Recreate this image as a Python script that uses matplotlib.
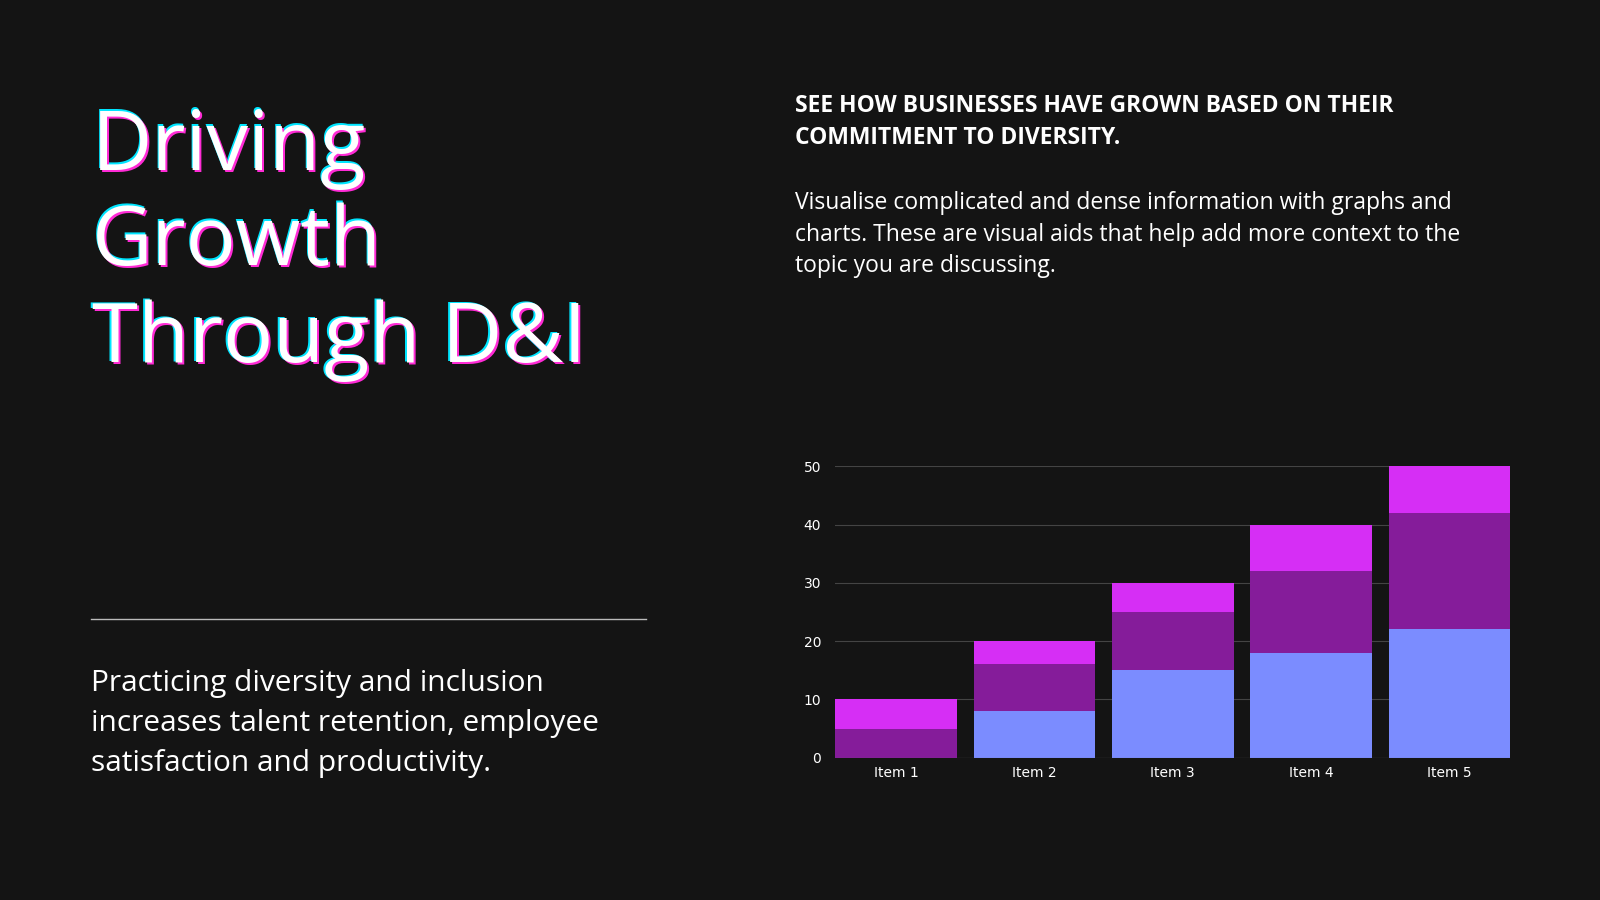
import matplotlib
matplotlib.use("Agg")
import matplotlib.pyplot as plt
import numpy as np

categories = ["Item 1", "Item 2", "Item 3", "Item 4", "Item 5"]
series_a = [0, 8, 15, 18, 22]
series_b = [5, 8, 10, 14, 20]
series_c = [5, 4, 5, 8, 8]
yticks = [0, 10, 20, 30, 40, 50]

bg = "#141414"
fig = plt.figure(figsize=(16, 9), dpi=100, facecolor=bg)

# Title with subtle glitch effect
title_lines = ["Driving", "Growth", "Through D&I"]
ys = [0.836, 0.730, 0.622]
for t, y in zip(title_lines, ys):
    fig.text(0.0565, y + 0.001, t, color="#00e5ff", fontsize=60, family="Open Sans", va="center")
    fig.text(0.0585, y - 0.003, t, color="#ff2bd6", fontsize=60, family="Open Sans", va="center")
    fig.text(0.0575, y - 0.001, t, color="white", fontsize=60, family="Open Sans", va="center")

fig.add_artist(plt.Line2D([0.057, 0.404], [0.312, 0.312], color="#bbbbbb", lw=1))
for t, y in zip(["Practicing diversity and inclusion",
                 "increases talent retention, employee",
                 "satisfaction and productivity."], [0.241, 0.196, 0.152]):
    fig.text(0.057, y, t, color="white", fontsize=21.5, family="Open Sans", va="center")

for t, y in zip(["SEE HOW BUSINESSES HAVE GROWN BASED ON THEIR",
                 "COMMITMENT TO DIVERSITY."], [0.882, 0.847]):
    fig.text(0.497, y, t, color="white", fontsize=16.5, fontweight="bold", family="Open Sans", va="center")
for t, y in zip(["Visualise complicated and dense information with graphs and",
                 "charts. These are visual aids that help add more context to the",
                 "topic you are discussing."], [0.774, 0.739, 0.704]):
    fig.text(0.497, y, t, color="white", fontsize=16.5, family="Open Sans", va="center")

ax = fig.add_axes([0.522, 0.158, 0.422, 0.324], facecolor=bg)
x = np.arange(len(categories))
w = 0.88
a = np.array(series_a); b = np.array(series_b); c = np.array(series_c)
ax.bar(x, a, w, color="#7b8cff", zorder=3)
ax.bar(x, b, w, bottom=a, color="#851c9a", zorder=3)
ax.bar(x, c, w, bottom=a + b, color="#d62ef5", zorder=3)
ax.set_xlim(-0.44, len(categories) - 0.56)
ax.set_ylim(0, 50)
ax.set_yticks(yticks)
ax.set_xticks(x)
ax.set_xticklabels(categories)
ax.tick_params(colors="white", labelsize=10, length=0, pad=6)
ax.tick_params(axis="y", pad=10)
ax.grid(axis="y", color="#444444", lw=0.8, zorder=0)
for s in ax.spines.values():
    s.set_visible(False)
ax.axhline(0, color="#666666", lw=0.8, zorder=4)

fig.savefig("out.png", facecolor=bg)
